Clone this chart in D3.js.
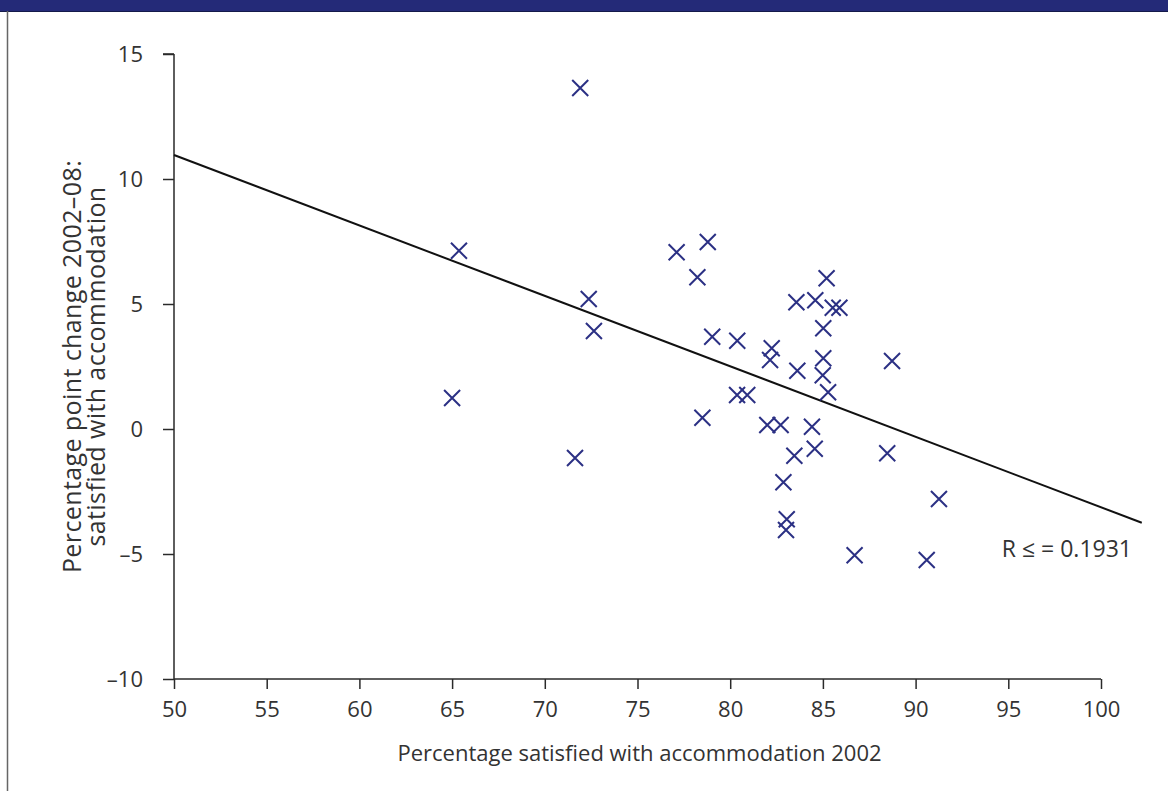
<!DOCTYPE html>
<html>
<head>
<meta charset="utf-8">
<script src="https://cdn.jsdelivr.net/npm/d3@7"></script>
<style>
  html, body { margin: 0; padding: 0; background: #fff; }
  svg { display: block; }
  text { font-family: "Open Sans", "Noto Sans", sans-serif; fill: #333; }
</style>
</head>
<body>
<svg id="chart" width="1168" height="791"></svg>
<script>
// Satisfaction with accommodation, 2002 level vs change 2002–08
const satisfied2002 = [65.0, 65.37, 71.63, 71.91, 72.37, 72.65, 77.11, 78.23, 78.79, 79.03,
  78.5, 80.38, 80.37, 80.92, 82.24, 82.15, 82.0, 82.72, 82.87, 83.05,
  83.01, 83.46, 83.57, 83.62, 84.41, 84.56, 84.59, 85.02, 85.02, 84.99,
  85.28, 85.2, 85.53, 85.89, 86.71, 88.47, 88.73, 90.6, 91.26];
const change2002to08 = [1.24, 7.13, -1.16, 13.64, 5.2, 3.92, 7.07, 6.07, 7.48, 3.69,
  0.45, 3.53, 1.36, 1.36, 3.23, 2.76, 0.16, 0.16, -2.13, -3.61,
  -4.04, -1.07, 5.07, 2.33, 0.09, -0.79, 5.15, 4.03, 2.83, 2.15,
  1.47, 6.03, 4.85, 4.85, -5.05, -0.97, 2.72, -5.24, -2.8];

// Linear trend line endpoints
const trendX = [50, 102.2];
const trendY = [10.96, -3.75];

const xTicks = [50, 55, 60, 65, 70, 75, 80, 85, 90, 95, 100];
const yTicks = [-10, -5, 0, 5, 10, 15];
const xTitle = "Percentage satisfied with accommodation 2002";
const yTitleLines = ["Percentage point change 2002\u201308:", "satisfied with accommodation"];
const rLabel = "R \u2264 = 0.1931";

const svg = d3.select("#chart");
const W = 1168, H = 791;
const fontSize = 22;

// Header band and frame
svg.append("rect").attr("x", 0).attr("y", 0).attr("width", W).attr("height", 11).attr("fill", "#242a78");
svg.append("line").attr("x1", 0).attr("x2", W).attr("y1", 11.5).attr("y2", 11.5).attr("stroke", "#141a4a").attr("stroke-width", 1);
svg.append("line").attr("x1", 7.5).attr("x2", 7.5).attr("y1", 11).attr("y2", H).attr("stroke", "#666").attr("stroke-width", 1.5);

const x = d3.scaleLinear().domain([50, 100]).range([174, 1101]);
const y = d3.scaleLinear().domain([-10, 15]).range([679, 54]);

const axisColor = "#2a2a2a";

// Y axis
const gy = svg.append("g").attr("transform", `translate(${x(50)},0)`)
  .call(d3.axisLeft(y).tickValues(yTicks).tickSize(11).tickPadding(20)
    .tickFormat(d => d < 0 ? "\u2013" + Math.abs(d) : d));
gy.select(".domain").attr("stroke", axisColor).attr("stroke-width", 1.5).attr("d", `M0,${y(15)}H-11M0,${y(15)}V${y(-10)}`);
gy.selectAll(".tick line").attr("stroke", axisColor).attr("stroke-width", 1.5);
gy.selectAll(".tick text").attr("font-size", fontSize).attr("fill", "#333").attr("font-family", "'Open Sans', sans-serif");

// X axis
const gx = svg.append("g").attr("transform", `translate(0,${y(-10)})`)
  .call(d3.axisBottom(x).tickValues(xTicks).tickSize(10).tickPadding(12));
gx.select(".domain").attr("stroke", axisColor).attr("stroke-width", 1.5).attr("d", `M${x(50)},0H${x(100)}`);
gx.selectAll(".tick line").attr("stroke", axisColor).attr("stroke-width", 1.5);
gx.selectAll(".tick text").attr("font-size", fontSize).attr("fill", "#333").attr("font-family", "'Open Sans', sans-serif");

// Trend line
svg.append("line")
  .attr("x1", x(trendX[0])).attr("y1", y(trendY[0]))
  .attr("x2", x(trendX[1])).attr("y2", y(trendY[1]))
  .attr("stroke", "#111").attr("stroke-width", 2);

// Cross markers
const pts = satisfied2002.map((v, i) => [v, change2002to08[i]]);
const s = 8;
svg.append("g").selectAll("path").data(pts).join("path")
  .attr("d", d => {
    const cx = x(d[0]), cy = y(d[1]);
    return `M${cx - s},${cy - s}L${cx + s},${cy + s}M${cx - s},${cy + s}L${cx + s},${cy - s}`;
  })
  .attr("stroke", "#2b3084").attr("stroke-width", 2).attr("fill", "none");

// R² annotation
svg.append("text").attr("x", 1132).attr("y", 557).attr("text-anchor", "end")
  .attr("font-size", 23).text(rLabel);

// Axis titles
svg.append("text").attr("x", 639.5).attr("y", 761).attr("text-anchor", "middle")
  .attr("font-size", fontSize).text(xTitle);

const yt = svg.append("text").attr("transform", `translate(81,${(54 + 679) / 2}) rotate(-90)`)
  .attr("text-anchor", "middle").attr("font-size", 25).attr("letter-spacing", 0.4);
yTitleLines.forEach((t, i) => {
  yt.append("tspan").attr("x", 0).attr("dy", i === 0 ? 0 : 24).text(t);
});
</script>
</body>
</html>
